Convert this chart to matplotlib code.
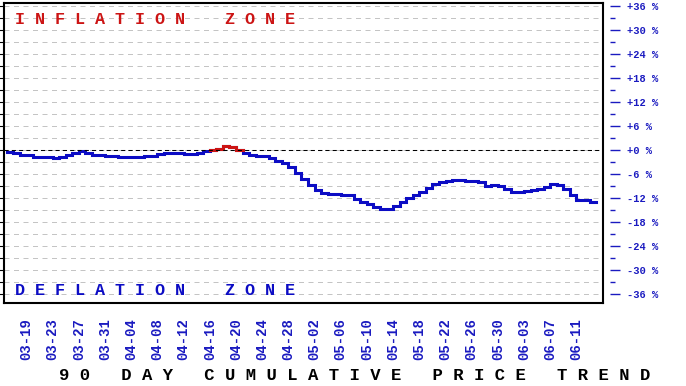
import numpy as np
import pandas as pd
import matplotlib
matplotlib.use("Agg")
import matplotlib.pyplot as plt

# cumulative price change (%), one value per day starting 03-16
values = [
    -0.4, -0.8, -1.1, -1.3, -1.6, -1.75, -1.75, -2.0, -1.75, -1.25,
    -0.8, -0.3, -0.6, -1.2, -1.2, -1.4, -1.4, -1.7, -1.7, -1.7,
    -1.7, -1.4, -1.4, -1.0, -0.7, -0.7, -0.7, -0.9, -0.9, -0.6,
    -0.2, 0.1, 0.35, 1.1, 0.8, 0.1, -0.7, -1.2, -1.4, -1.4,
    -1.9, -2.7, -3.3, -4.25, -5.8, -7.25, -8.6, -10.0, -10.7, -10.9,
    -10.9, -11.25, -11.25, -12.25, -13.0, -13.5, -14.25, -14.75, -14.75, -14.0,
    -13.0, -12.0, -11.25, -10.5, -9.5, -8.5, -8.0, -7.75, -7.5, -7.5,
    -7.75, -7.75, -8.0, -9.0, -8.75, -9.0, -9.75, -10.5, -10.5, -10.25,
    -10.0, -9.75, -9.25, -8.5, -8.75, -9.75, -11.25, -12.5, -12.5, -13.0,
]
start_date = "2024-03-16"
tick_labels = [
    "03-19", "03-23", "03-27", "03-31", "04-04", "04-08", "04-12", "04-16",
    "04-20", "04-24", "04-28", "05-02", "05-06", "05-10", "05-14", "05-18",
    "05-22", "05-26", "05-30", "06-03", "06-07", "06-11",
]
y_labels = [36, 30, 24, 18, 12, 6, 0, -6, -12, -18, -24, -30, -36]

BLUE = "#0c0cc4"
RED = "#cc1414"
LBL = "#1a1ac0"
MONO = ["Liberation Mono", "DejaVu Sans Mono"]

dates = pd.date_range(start_date, periods=len(values))
day_of = {d.strftime("%m-%d"): i for i, d in enumerate(dates)}
tick_pos = [day_of[t] for t in tick_labels]

W, H = 686, 386
fig = plt.figure(figsize=(W / 100, H / 100), dpi=100)
ax = fig.add_axes([4 / W, (H - 303.3) / H, 599.3 / W, 300 / H])

x = np.arange(len(values) + 1)
y = np.array(values + [values[-1]])
ax.plot(x, y, drawstyle="steps-post", color=BLUE, lw=2.2, solid_joinstyle="miter")
y_red = np.where(y > 0, y, np.nan)
ax.plot(x, y_red, drawstyle="steps-post", color=RED, lw=2.2, solid_joinstyle="miter")

ax.set_xlim(-0.43, 91.1)
ax.set_ylim(-38.3, 36.7)

# dashed grid every 3 %
ax.set_yticks(np.arange(-36, 37, 3))
ax.tick_params(axis="y", left=False, labelleft=False)
ax.grid(axis="y", color="#c4c4c4", lw=0.72, linestyle=(0, (5, 4.5)))
ax.axhline(0, color="black", lw=0.75, linestyle=(0, (4, 3)))

ax.set_xticks(tick_pos)
ax.set_xticklabels(tick_labels, rotation=90, fontsize=10, fontweight="bold",
                   color=LBL, family=MONO)
ax.tick_params(axis="x", length=0, pad=11)

for s in ax.spines.values():
    s.set_linewidth(1.5)
    s.set_color("black")

# right-hand percent scale, detached from the frame
ax2 = ax.twinx()
ax2.set_ylim(ax.get_ylim())
ax2.spines["right"].set_position(("outward", 5))
for s in ax2.spines.values():
    s.set_visible(False)
ax2.set_yticks(y_labels)
ax2.set_yticklabels([f"{v:+d} %" for v in y_labels], fontsize=7.5,
                    fontweight="bold", color=LBL, family=MONO)
ax2.set_yticks(np.arange(-33, 36, 6), minor=True)
ax2.tick_params(axis="y", which="major", length=7.5, width=1.0, color=LBL, pad=4.3)
ax2.tick_params(axis="y", which="minor", length=3.8, width=1.0, color=LBL)

fig.text(15 / W, 1 - 19.5 / H, " ".join("INFLATION") + "    " + " ".join("ZONE"),
         color=RED, fontsize=12.1, fontweight="bold", family=MONO,
         ha="left", va="center")
fig.text(15 / W, 1 - 290.5 / H, " ".join("DEFLATION") + "    " + " ".join("ZONE"),
         color=BLUE, fontsize=12.1, fontweight="bold", family=MONO,
         ha="left", va="center")
fig.text(355 / W, 1 - 375 / H, "   ".join(" ".join(w) for w in
         ["90", "DAY", "CUMULATIVE", "PRICE", "TREND"]),
         color="black", fontsize=12.4, fontweight="bold", family=MONO,
         ha="center", va="center")

fig.savefig("out.png", dpi=100)
